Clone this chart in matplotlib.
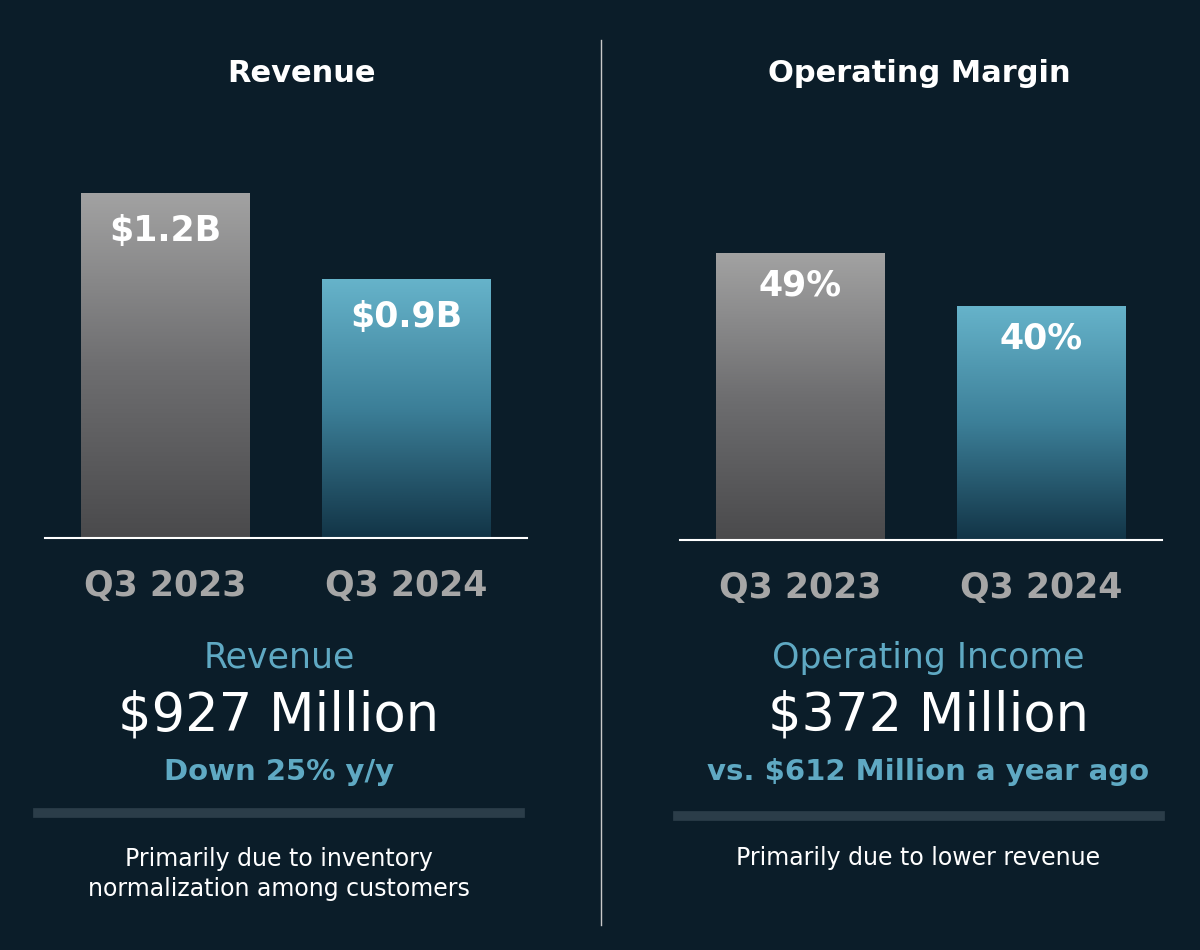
import numpy as np
import matplotlib.pyplot as plt
from matplotlib.colors import LinearSegmentedColormap
from matplotlib.lines import Line2D

# Data
quarters = ['Q3 2023', 'Q3 2024']
revenue = [1.2, 0.9]
revenue_labels = ['$1.2B', '$0.9B']
margin = [49, 40]
margin_labels = ['49%', '40%']

bg = '#0b1d29'
W, H = 1200, 950
fig = plt.figure(figsize=(12, 9.5), dpi=100, facecolor=bg)

gray_cm = LinearSegmentedColormap.from_list('g', ['#4a4a4c', '#6e6e70', '#a2a2a2'])
blue_cm = LinearSegmentedColormap.from_list('b', ['#123446', '#3c7f98', '#66b3ca'])


def fx(px):
    return px / W


def fy(py):
    return 1 - py / H


def panel(left_px, right_px, base_px, top_px, ylim, vals, labels, label_off):
    ax = fig.add_axes([fx(left_px), fy(base_px), fx(right_px - left_px), (base_px - top_px) / H])
    ax.set_facecolor(bg)
    ax.set_xlim(0, 2)
    ax.set_ylim(0, ylim)
    for s in ax.spines.values():
        s.set_visible(False)
    ax.set_xticks([])
    ax.set_yticks([])
    ax.axhline(0, color='white', lw=1.5, clip_on=False)
    grad = np.linspace(0, 1, 256).reshape(-1, 1)
    for i, (v, lab, cm) in enumerate(zip(vals, labels, [gray_cm, blue_cm])):
        x0, x1 = 0.15 + i * 1.0, 0.85 + i * 1.0
        ax.imshow(grad, cmap=cm, origin='lower', aspect='auto',
                  extent=[x0, x1, 0, v], zorder=1)
        ax.text((x0 + x1) / 2, v - label_off, lab, ha='center', va='top',
                color='white', fontsize=25, fontweight='bold')
        ax.text((x0 + x1) / 2, -ylim * 0.08, quarters[i], ha='center', va='top',
                color='#a6a6a6', fontsize=25, fontweight='bold')
    ax.set_xlim(0, 2)
    return ax


panel(45, 527, 538, 150, 1.353, revenue, revenue_labels, 0.07)
panel(680, 1162, 540, 150, 66.8, margin, margin_labels, 2.5)

fig.add_artist(Line2D([fx(601)] * 2, [fy(40), fy(925)], color='#c8c8c8', lw=1))

fig.text(fx(301), fy(73), 'Revenue', ha='center', va='center', color='white',
         fontsize=22, fontweight='bold')
fig.text(fx(919), fy(73), 'Operating Margin', ha='center', va='center', color='white',
         fontsize=22, fontweight='bold')

teal = '#5fa9c3'
fig.text(fx(279), fy(658), 'Revenue', ha='center', va='center', color=teal, fontsize=25)
fig.text(fx(279), fy(716), '$927 Million', ha='center', va='center', color='white', fontsize=38)
fig.text(fx(279), fy(772), 'Down 25% y/y', ha='center', va='center', color=teal,
         fontsize=21, fontweight='bold')
fig.text(fx(928), fy(658), 'Operating Income', ha='center', va='center', color=teal, fontsize=25)
fig.text(fx(928), fy(716), '$372 Million', ha='center', va='center', color='white', fontsize=38)
fig.text(fx(928), fy(772), 'vs. $612 Million a year ago', ha='center', va='center', color=teal,
         fontsize=21, fontweight='bold')

fig.add_artist(Line2D([fx(38), fx(520)], [fy(813)] * 2, color='#2b3d49', lw=7))
fig.add_artist(Line2D([fx(678), fx(1160)], [fy(816)] * 2, color='#2b3d49', lw=7))

fig.text(fx(279), fy(874), 'Primarily due to inventory\nnormalization among customers',
         ha='center', va='center', color='white', fontsize=17, linespacing=1.3)
fig.text(fx(918), fy(858), 'Primarily due to lower revenue', ha='center', va='center',
         color='white', fontsize=17)

plt.savefig('out.png', facecolor=bg)
plt.close()
